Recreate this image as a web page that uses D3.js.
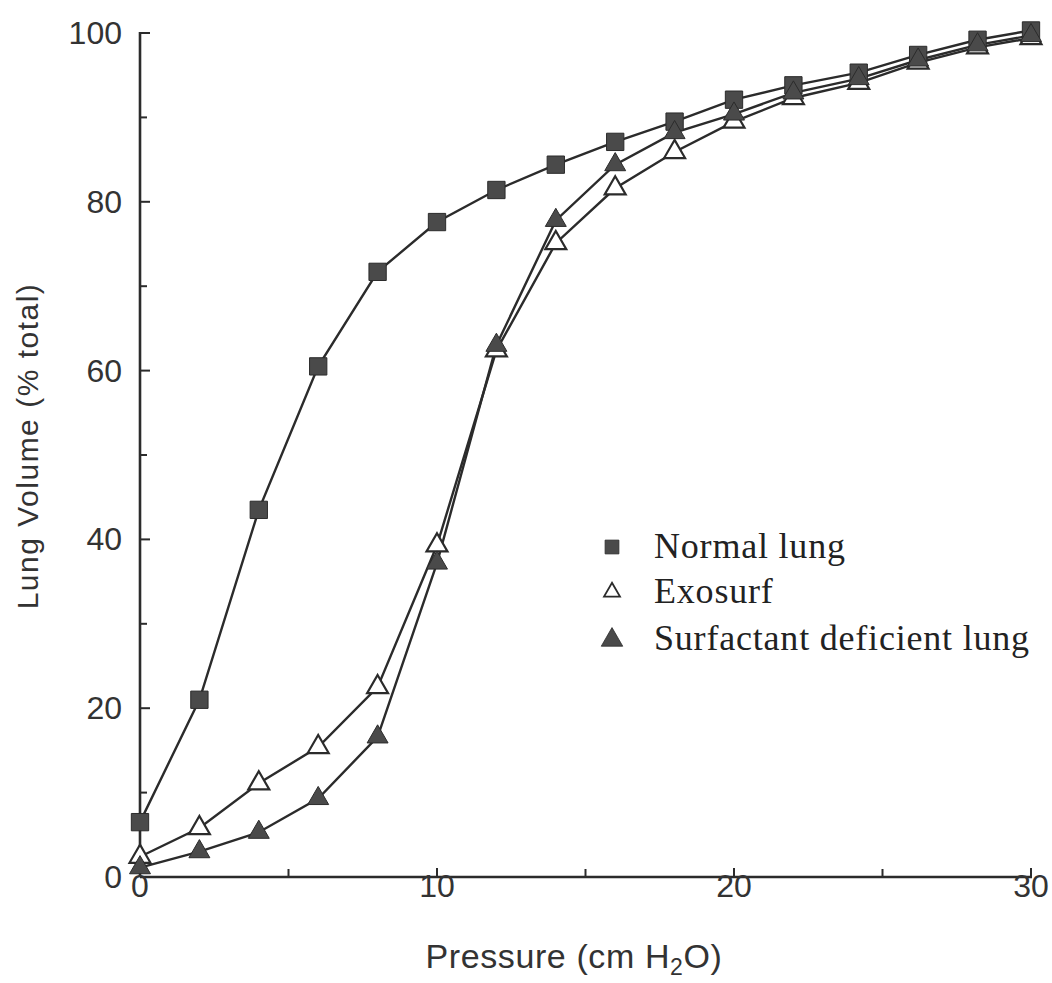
<!DOCTYPE html>
<html><head><meta charset="utf-8">
<script src="https://cdn.jsdelivr.net/npm/d3@7"></script>
<style>body{margin:0;background:#fff}svg{display:block}</style>
</head><body>
<svg id="c" width="1052" height="983"></svg>
<script>
const pressure = [0, 2, 4, 6, 8, 10, 12, 14, 16, 18, 20, 22, 24.2, 26.2, 28.2, 30];
const normalLung = [6.5, 21, 43.5, 60.5, 71.7, 77.6, 81.4, 84.4, 87.1, 89.5, 92.1, 93.8, 95.3, 97.4, 99.2, 100.3];
const exosurf = [2.4, 5.8, 11.1, 15.4, 22.5, 39.3, 62.4, 75.1, 81.6, 85.9, 89.5, 92.3, 94.1, 96.5, 98.3, 99.4];
const surfDeficient = [1.1, 3.0, 5.3, 9.3, 16.6, 37.2, 63.0, 77.8, 84.4, 88.2, 90.4, 92.9, 94.6, 96.8, 98.6, 99.7];
const xTicks = [0, 10, 20, 30];
const yTicks = [0, 20, 40, 60, 80, 100];
const seriesNames = ["Normal lung", "Exosurf", "Surfactant deficient lung"];

const svg = d3.select("#c");
const x = d3.scaleLinear().domain([0, 30]).range([140, 1031]);
const y = d3.scaleLinear().domain([0, 100]).range([877, 33]);
const ink = "#2b2b2b";

// axes
const g = svg.append("g");
g.append("line").attr("x1", x(0)).attr("x2", x(0)).attr("y1", y(100) - 1).attr("y2", y(0))
  .attr("stroke", ink).attr("stroke-width", 2.6);
g.append("line").attr("x1", x(0)).attr("x2", x(30) + 1).attr("y1", y(0)).attr("y2", y(0))
  .attr("stroke", ink).attr("stroke-width", 2.6);
// y ticks (inside)
d3.range(0, 101, 10).forEach(v => {
  g.append("line").attr("x1", x(0)).attr("x2", x(0) + (v % 20 === 0 ? 10 : 7))
    .attr("y1", y(v)).attr("y2", y(v)).attr("stroke", ink).attr("stroke-width", 2);
});
// x ticks (inside)
d3.range(5, 31, 5).forEach(v => {
  g.append("line").attr("x1", x(v)).attr("x2", x(v))
    .attr("y1", y(0)).attr("y2", y(0) - (v % 10 === 0 ? 9 : 8)).attr("stroke", ink).attr("stroke-width", 2);
});
const sans = "'Liberation Sans', Arial, sans-serif";
g.selectAll(".yl").data(yTicks).enter().append("text")
  .attr("x", 122).attr("y", d => y(d) + 11).attr("text-anchor", "end")
  .attr("font-family", sans).attr("font-size", 32).attr("fill", "#333").text(d => d);
g.selectAll(".xl").data(xTicks).enter().append("text")
  .attr("x", d => x(d)).attr("y", 897).attr("text-anchor", "middle")
  .attr("font-family", sans).attr("font-size", 32).attr("fill", "#333").text(d => d);

// axis titles
const xt = svg.append("text").attr("x", 574).attr("y", 968).attr("text-anchor", "middle")
  .attr("font-family", sans).attr("font-size", 34).attr("letter-spacing", 0.6).attr("fill", "#333");
xt.append("tspan").text("Pressure (cm H");
xt.append("tspan").attr("font-size", 23).attr("dy", 7).text("2");
xt.append("tspan").attr("dy", -7).text("O)");
svg.append("text").attr("transform", "translate(38,446) rotate(-90)").attr("text-anchor", "middle")
  .attr("font-family", sans).attr("font-size", 30).attr("letter-spacing", 1.5).attr("fill", "#333")
  .text("Lung Volume (% total)");

// series
const line = d3.line().x(d => x(d[0])).y(d => y(d[1]));
const sets = [normalLung, exosurf, surfDeficient];
const symSquare = d3.symbol().type(d3.symbolSquare).size(300);
const symTri = d3.symbol().type(d3.symbolTriangle).size(190);
sets.forEach(vals => {
  const pts = pressure.map((p, i) => [p, vals[i]]);
  svg.append("path").attr("d", line(pts)).attr("fill", "none").attr("stroke", ink).attr("stroke-width", 2.4);
});
sets.forEach((vals, si) => {
  const pts = pressure.map((p, i) => [p, vals[i]]);
  svg.selectAll(null).data(pts).enter().append("path")
    .attr("transform", d => `translate(${x(d[0])},${y(d[1])})`)
    .attr("d", si === 0 ? symSquare() : symTri())
    .attr("fill", si === 1 ? "#fff" : "#4a4a4a")
    .attr("stroke", ink).attr("stroke-width", si === 1 ? 2.2 : 1);
});

// legend
const serif = "'Liberation Serif', 'Times New Roman', serif";
const leg = svg.append("g");
const legY = [558, 603, 650];
const legSym = [
  d3.symbol().type(d3.symbolSquare).size(190)(),
  d3.symbol().type(d3.symbolTriangle).size(110)(),
  d3.symbol().type(d3.symbolTriangle).size(200)()
];
seriesNames.forEach((n, i) => {
  leg.append("path").attr("transform", `translate(612,${legY[i] - (i === 2 ? 10 : 11)})`)
    .attr("d", legSym[i]).attr("fill", i === 1 ? "#fff" : "#4a4a4a")
    .attr("stroke", ink).attr("stroke-width", i === 1 ? 1.8 : 0.8);
  leg.append("text").attr("x", 654).attr("y", legY[i])
    .attr("font-family", serif).attr("font-size", 36).attr("letter-spacing", 0.8).attr("fill", "#222").text(n);
});
</script>
</body></html>
